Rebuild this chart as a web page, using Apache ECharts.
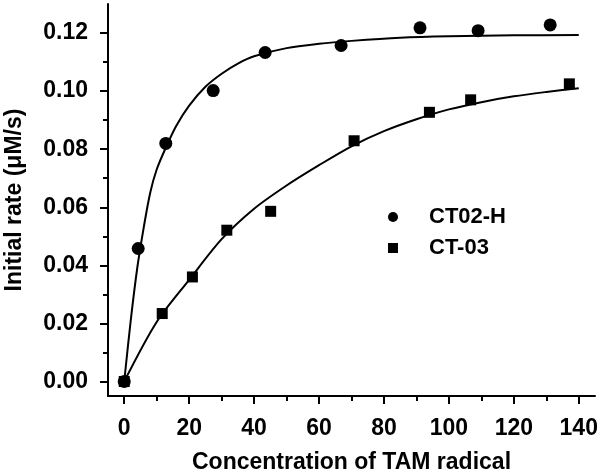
<!DOCTYPE html>
<html>
<head>
<meta charset="utf-8">
<script src="https://cdn.jsdelivr.net/npm/echarts@6/dist/echarts.min.js"></script>
<style>
html,body{margin:0;padding:0;background:#fff;}
#chart{width:600px;height:473px;}
</style>
</head>
<body>
<div id="chart"></div>
<script>
// Tick values
var xTicks = [0, 20, 40, 60, 80, 100, 120, 140];
var xMinorTicks = [10, 30, 50, 70, 90, 110, 130];
var yTicks = [0, 0.02, 0.04, 0.06, 0.08, 0.10, 0.12];
var yMinorTicks = [0.01, 0.03, 0.05, 0.07, 0.09, 0.11];

// Measured points
var ct02hX = [0, 4.3, 12.8, 27.4, 43.4, 66.8, 91.1, 109.0, 131.2];
var ct02hY = [0, 0.0458, 0.0820, 0.1002, 0.1133, 0.1157, 0.1218, 0.1208, 0.1228];
var ct03X = [0, 11.7, 21.0, 31.6, 45.1, 70.8, 94.0, 106.7, 137.1];
var ct03Y = [0, 0.0234, 0.0360, 0.0521, 0.0586, 0.0829, 0.0927, 0.0970, 0.1025];

// Fitted curves
var fitHX = [0, 2, 4, 6, 8, 10, 13, 16, 20, 25, 30, 35, 40, 50, 60, 70, 85, 100, 120, 140];
var fitHY = [0, 0.021, 0.039, 0.053, 0.065, 0.073, 0.081, 0.088, 0.095, 0.1015, 0.106, 0.1095, 0.112, 0.1148, 0.1163, 0.1173, 0.1184, 0.1189, 0.1192, 0.1193];
var fit3X = [0, 10, 20, 30, 40, 50, 60, 70, 80, 90, 100, 110, 120, 130, 140];
var fit3Y = [0, 0.0205, 0.0350, 0.0490, 0.0595, 0.0675, 0.0745, 0.0810, 0.0862, 0.0903, 0.0937, 0.0962, 0.0982, 0.0997, 0.1010];

var seriesNames = ['CT02-H', 'CT-03'];

function zip(xs, ys) { return xs.map(function (x, i) { return [x, ys[i]]; }); }

var FONT = 'Liberation Sans, Arial, sans-serif';
var chart = echarts.init(document.getElementById('chart'), null, {renderer: 'canvas'});

var baseX = {
  type: 'value', min: -5, max: 145, splitLine: {show: false}
};
var baseY = {
  type: 'value', min: -0.005, max: 0.13, splitLine: {show: false}
};

chart.setOption({
  animation: false,
  backgroundColor: '#fff',
  grid: {left: 108, right: 5, top: 4, bottom: 77, containLabel: false, outerBoundsMode: 'none'},
  legend: {
    data: [{name: seriesNames[0], icon: 'circle'}, {name: seriesNames[1], icon: 'rect'}],
    orient: 'vertical',
    left: 388, top: 206,
    padding: 0,
    itemWidth: 10, itemHeight: 10, itemGap: 9,
    textStyle: {fontFamily: FONT, fontWeight: 'bold', fontSize: 22, color: '#000', padding: [0, 0, 0, 26]}
  },
  xAxis: [
    Object.assign({}, baseX, {
      name: 'Concentration of TAM radical',
      nameLocation: 'middle', nameGap: 55,
      nameTextStyle: {fontFamily: FONT, fontWeight: 'bold', fontSize: 23, color: '#000'},
      axisLine: {show: true, onZero: false, lineStyle: {color: '#000', width: 2}},
      axisTick: {show: true, customValues: xTicks, length: 8, lineStyle: {color: '#000', width: 2}},
      axisLabel: {customValues: xTicks, margin: 21, fontFamily: FONT, fontWeight: 'bold', fontSize: 23, color: '#000'}
    }),
    Object.assign({}, baseX, {
      position: 'bottom',
      axisLine: {show: false, onZero: false},
      axisTick: {show: true, customValues: xMinorTicks, length: 5, lineStyle: {color: '#000', width: 2}},
      axisLabel: {show: false}
    })
  ],
  yAxis: [
    Object.assign({}, baseY, {
      name: 'Initial rate (\u03BCM/s)',
      nameLocation: 'middle', nameGap: 82,
      nameTextStyle: {fontFamily: FONT, fontWeight: 'bold', fontSize: 23, color: '#000'},
      axisLine: {show: true, onZero: false, lineStyle: {color: '#000', width: 2}},
      axisTick: {show: true, customValues: yTicks, length: 8, lineStyle: {color: '#000', width: 2}},
      axisLabel: {customValues: yTicks, margin: 20, fontFamily: FONT, fontWeight: 'bold', fontSize: 23, color: '#000',
        formatter: function (v) { return v.toFixed(2); }}
    }),
    Object.assign({}, baseY, {
      position: 'left',
      axisLine: {show: false, onZero: false},
      axisTick: {show: true, customValues: yMinorTicks, length: 5, lineStyle: {color: '#000', width: 2}},
      axisLabel: {show: false}
    })
  ],
  series: [
    {
      name: 'CT02-H fit', type: 'line', data: zip(fitHX, fitHY),
      showSymbol: false, smooth: 0.3,
      lineStyle: {color: '#000', width: 2}, silent: true, z: 2
    },
    {
      name: 'CT-03 fit', type: 'line', data: zip(fit3X, fit3Y),
      showSymbol: false, smooth: 0.3,
      lineStyle: {color: '#000', width: 2}, silent: true, z: 2
    },
    {
      name: seriesNames[0], type: 'scatter', data: zip(ct02hX, ct02hY),
      symbol: 'circle', symbolSize: 13, itemStyle: {color: '#000', opacity: 1}, z: 3
    },
    {
      name: seriesNames[1], type: 'scatter', data: zip(ct03X, ct03Y),
      symbol: 'rect', symbolSize: 11, itemStyle: {color: '#000', opacity: 1}, z: 3
    }
  ]
});
</script>
</body>
</html>
